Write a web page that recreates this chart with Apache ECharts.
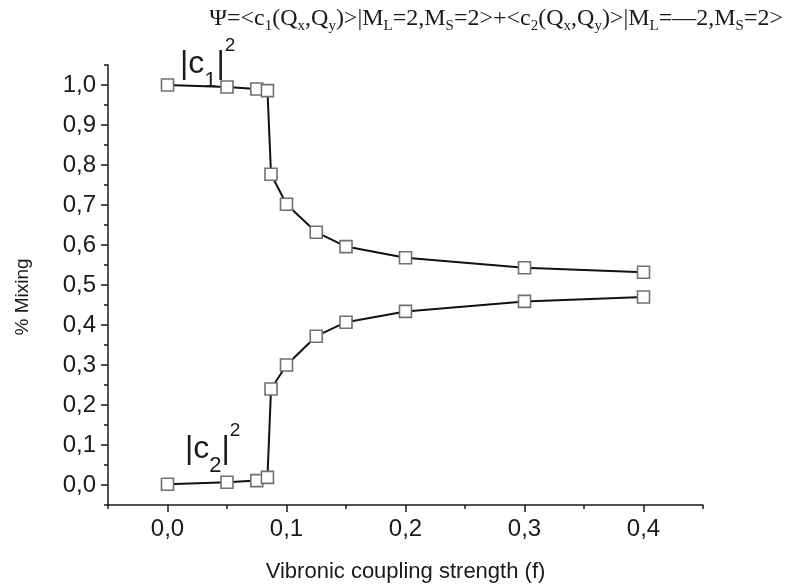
<!DOCTYPE html>
<html>
<head>
<meta charset="utf-8">
<script src="https://cdn.jsdelivr.net/npm/echarts@6/dist/echarts.min.js"></script>
<style>
  html, body { margin: 0; padding: 0; background: #fff; }
  #chart { width: 790px; height: 587px; }
</style>
</head>
<body>
<div id="chart"></div>
<script>
// coupling strength f and the two mixing coefficients
var fVals  = [0, 0.05, 0.075, 0.084, 0.087, 0.1, 0.125, 0.15, 0.2, 0.3, 0.4];
var c1Vals = [1.0, 0.995, 0.99, 0.986, 0.777, 0.702, 0.632, 0.596, 0.568, 0.543, 0.532];
var c2Vals = [0.002, 0.007, 0.011, 0.019, 0.24, 0.30, 0.372, 0.407, 0.434, 0.459, 0.47];

// tick positions (major ones carry labels)
var xMajorTicks = [0, 0.1, 0.2, 0.3, 0.4];
var xMinorTicks = [-0.05, 0.05, 0.15, 0.25, 0.35, 0.45];
var yMajorTicks = [0, 0.1, 0.2, 0.3, 0.4, 0.5, 0.6, 0.7, 0.8, 0.9, 1.0];
var yMinorTicks = [-0.05, 0.05, 0.15, 0.25, 0.35, 0.45, 0.55, 0.65, 0.75, 0.85, 0.95, 1.05];

var sans = '"Liberation Sans", Arial, sans-serif';
var serif = '"Liberation Serif", "Times New Roman", serif';
var axisColor = '#1a1a1a';

function commaFmt(v) {
  return v.toFixed(1).replace('.', ',');
}

function pairs(xs, ys) {
  var out = [];
  for (var i = 0; i < xs.length; i++) out.push([xs[i], ys[i]]);
  return out;
}

// both grids share one box: grid 0 = main axes, grid 1 = minor ticks only
var gridBox = { left: 108, right: 87, top: 65, bottom: 82, outerBoundsMode: 'none', containLabel: false };

var seriesStyle = {
  type: 'line',
  xAxisIndex: 0,
  yAxisIndex: 0,
  symbol: 'rect',
  symbolSize: 12,
  lineStyle: { color: '#111', width: 2 },
  itemStyle: { color: '#fff', borderColor: '#707070', borderWidth: 1.6 },
  emphasis: { disabled: true },
  animation: false
};

var option = {
  backgroundColor: '#fff',
  animation: false,
  grid: [
    Object.assign({}, gridBox),
    Object.assign({}, gridBox)
  ],
  xAxis: [{
    type: 'value',
    gridIndex: 0,
    min: -0.05,
    max: 0.45,
    name: 'Vibronic coupling strength (f)',
    nameLocation: 'middle',
    nameGap: 56,
    nameTextStyle: { fontFamily: sans, fontSize: 22, color: '#1a1a1a' },
    axisLine: { onZero: false, lineStyle: { color: axisColor, width: 1.5 } },
    axisTick: { length: 7, lineStyle: { color: axisColor, width: 1.5 }, customValues: xMajorTicks },
    axisLabel: { fontFamily: sans, fontSize: 24, color: '#1a1a1a', margin: 12,
                 customValues: xMajorTicks, formatter: commaFmt },
    splitLine: { show: false }
  }, {
    type: 'value',
    gridIndex: 1,
    min: -0.05,
    max: 0.45,
    axisLine: { show: false, onZero: false },
    axisTick: { length: 4, lineStyle: { color: axisColor, width: 1.5 }, customValues: xMinorTicks },
    axisLabel: { show: false },
    splitLine: { show: false }
  }],
  yAxis: [{
    type: 'value',
    gridIndex: 0,
    min: -0.05,
    max: 1.05,
    name: '% Mixing',
    nameLocation: 'middle',
    nameGap: 76,
    nameTextStyle: { fontFamily: sans, fontSize: 19, color: '#1a1a1a', padding: [0, 24, 0, 0] },
    axisLine: { onZero: false, lineStyle: { color: axisColor, width: 1.5 } },
    axisTick: { length: 7, lineStyle: { color: axisColor, width: 1.5 }, customValues: yMajorTicks },
    axisLabel: { fontFamily: sans, fontSize: 24, color: '#1a1a1a', margin: 12,
                 customValues: yMajorTicks, formatter: commaFmt },
    splitLine: { show: false }
  }, {
    type: 'value',
    gridIndex: 1,
    min: -0.05,
    max: 1.05,
    axisLine: { show: false, onZero: false },
    axisTick: { length: 4, lineStyle: { color: axisColor, width: 1.5 }, customValues: yMinorTicks },
    axisLabel: { show: false },
    splitLine: { show: false }
  }],
  series: [
    Object.assign({ name: 'c1', data: pairs(fVals, c1Vals) }, seriesStyle),
    Object.assign({ name: 'c2', data: pairs(fVals, c2Vals) }, seriesStyle)
  ],
  graphic: [
    // wave function expression on top
    {
      type: 'text',
      right: 7,
      top: 7,
      style: {
        text: '{m|Ψ=<c}{s|1}{m|(Q}{s|x}{m|,Q}{s|y}{m|)>|M}{s|L}{m|=2,M}{s|S}{m|=2>+<c}{s|2}{m|(Q}{s|x}{m|,Q}{s|y}{m|)>|M}{s|L}{m|=—2,M}{s|S}{m|=2>}',
        fill: '#1a1a1a',
        rich: {
          m: { fontFamily: serif, fontSize: 24, lineHeight: 30, fill: '#1a1a1a' },
          s: { fontFamily: serif, fontSize: 15, lineHeight: 14, verticalAlign: 'bottom', fill: '#1a1a1a' }
        }
      }
    },
    // |c1|^2 label
    {
      type: 'text',
      left: 180,
      top: 36,
      style: {
        text: '{m||c}{s|1}{m||}{p|2}',
        rich: {
          m: { fontFamily: sans, fontSize: 32, lineHeight: 56, fill: '#1a1a1a' },
          s: { fontFamily: sans, fontSize: 22, lineHeight: 29, verticalAlign: 'bottom', fill: '#1a1a1a' },
          p: { fontFamily: sans, fontSize: 19, lineHeight: 22, verticalAlign: 'top', fill: '#1a1a1a' }
        }
      }
    },
    // |c2|^2 label
    {
      type: 'text',
      left: 185,
      top: 421,
      style: {
        text: '{m||c}{s|2}{m||}{p|2}',
        rich: {
          m: { fontFamily: sans, fontSize: 32, lineHeight: 56, fill: '#1a1a1a' },
          s: { fontFamily: sans, fontSize: 22, lineHeight: 29, verticalAlign: 'bottom', fill: '#1a1a1a' },
          p: { fontFamily: sans, fontSize: 19, lineHeight: 22, verticalAlign: 'top', fill: '#1a1a1a' }
        }
      }
    }
  ]
};

var myChart = echarts.init(document.getElementById('chart'), null, { renderer: 'canvas' });
myChart.setOption(option);
</script>
</body>
</html>
